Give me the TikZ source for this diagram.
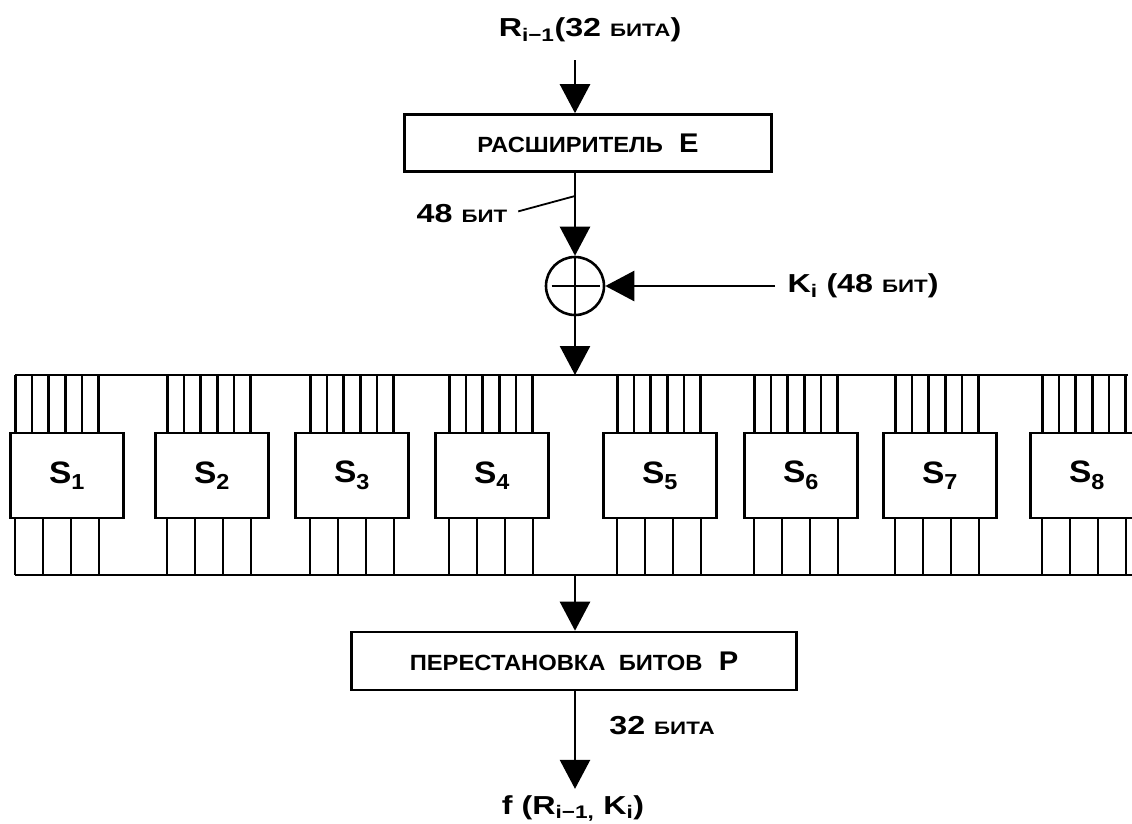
\documentclass[tikz,border=0pt]{standalone}
\usepackage{fontspec}
\setmainfont{Liberation Sans}[FakeStretch=1.08]
\newfontfamily\lblfont{Liberation Sans}[FakeStretch=1.24]
\usetikzlibrary{arrows.meta}
\newcommand\smallcy[1]{{\fontsize{18}{18}\selectfont #1}}
\newcommand\boxcy[1]{{\fontsize{22}{22}\selectfont #1}}

\begin{document}
\begin{tikzpicture}[x=1pt,y=-1pt,line width=2.6pt,
  arr/.style={-{Triangle[length=29pt,width=30pt]}},
  lbl/.style={font=\lblfont\fontsize{26}{26}\selectfont\bfseries,inner sep=0pt},
  blk/.style={draw,minimum height=57pt,inner sep=0pt,font=\fontsize{27}{27}\selectfont\bfseries},
  sbox/.style={draw,fill=white,minimum width=113pt,minimum height=85pt,font=\fontsize{31}{31}\selectfont\bfseries}]
  \useasboundingbox (0,0) rectangle (1132,823);
  % labels and blocks
  \node[lbl] (rin) at (590,30) {R\textsubscript{i−1}(32 \smallcy{БИТА})};
  \node[blk,minimum width=367pt] (exp) at (588,143) {\boxcy{РАСШИРИТЕЛЬ}\ \ E};
  \node[lbl] (lbl48) at (462,214) {48 \smallcy{БИТ}};
  \node[draw,circle,minimum size=58pt,inner sep=0pt] (xor) at (575,286) {};
  \node[lbl] (key) at (863,286) {K\textsubscript{i} (48 \smallcy{БИТ})};
  \node[blk,minimum width=445pt,minimum height=58pt] (perm) at (574,661) {\boxcy{ПЕРЕСТАНОВКА\ \ БИТОВ}\ \ P};
  \node[lbl] (b32) at (662,726) {32 \smallcy{БИТА}};
  \node[lbl,anchor=base] (fout) at (573,814) {f (R\textsubscript{i−1,} K\textsubscript{i})};
  \coordinate (in) at (575,60);
  \coordinate (tick) at (575,196);
  \coordinate (kin) at (775,286);
  \coordinate (bustop) at (575,375);
  \coordinate (busbot) at (575,575);
  % arrows
  \draw[arr] (in) -- (in |- exp.north);
  \draw[arr] (in |- exp.south) -- (xor.north);
  \draw[line width=1.8pt,shorten <=10pt] (lbl48.east) -- (tick);
  \draw (xor.north) -- (xor.south);
  \draw[shorten <=7pt,shorten >=5pt] (xor.west) -- (xor.east);
  \draw[arr] (kin) -- (xor.east);
  \draw[arr] (xor.south) -- (bustop);
  \draw[arr] (busbot) -- (busbot |- perm.north);
  \draw[arr,shorten >=5pt] (perm.south -| busbot) -- (busbot |- fout.north);
  % S-boxes with their wires
  \draw (15,375) -- (1128,375);
  \draw (15,575) -- (1132,575);
  \foreach \n / \x / \w in {1/67/57, 2/212/209, 3/352/352, 4/492/491, 5/660/659, 6/801/796, 7/940/937, 8/1087/1084}{
    \foreach \d in {-41.5,-25,-8.3,8.3,25,41.5}
      \draw (\w+\d,375) -- (\w+\d,433);
    \foreach \d in {-42,-14,14,42}
      \draw (\w+\d,518) -- (\w+\d,575);
    \node[sbox] (s\n) at (\x,475.5) {S\textsubscript{\n}};
  }
\end{tikzpicture}
\end{document}
